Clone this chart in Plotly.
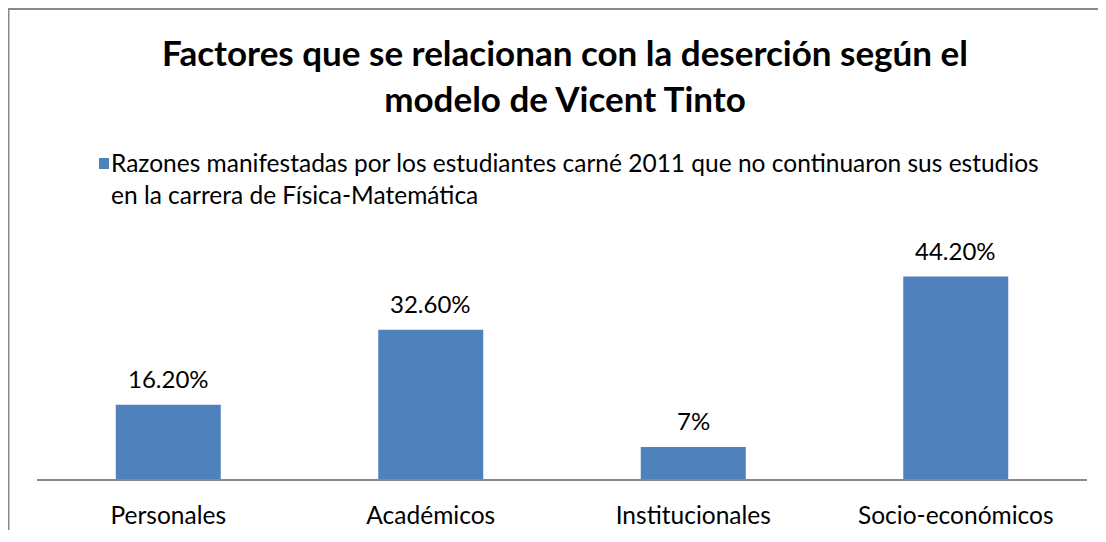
import plotly.graph_objects as go

categorias = ["Personales", "Académicos", "Institucionales", "Socio-económicos"]
porcentajes = [16.2, 32.6, 7.0, 44.2]
etiquetas = ["16.20%", "32.60%", "7%", "44.20%"]
serie = ("Razones manifestadas por los estudiantes carné 2011 que no continuaron sus estudios"
         "<br>en la carrera de Física-Matemática")
titulo = "<b>Factores que se relacionan con la deserción según el<br>modelo de Vicent Tinto</b>"

FONT = "Lato, Carlito, Calibri, sans-serif"
AZUL = "#4f81bd"
GRIS = "#898989"

# la página tiene 8px de margen en el body, la figura ocupa el resto
W, H = 1090, 522
ml, mr, mt, mb = 29, 11, 242, 51
pw, ph = W - ml - mr, H - mt - mb


def px_x(v):
    return (v - ml) / pw


def px_y(v):
    return (H - mb - v) / ph


fig = go.Figure()
fig.add_trace(go.Bar(
    x=categorias, y=porcentajes, name=serie,
    marker=dict(color=AZUL, line=dict(width=0)),
    showlegend=False, hoverinfo="x+y",
))

# etiquetas de datos encima de cada barra
for cat, val, lab in zip(categorias, porcentajes, etiquetas):
    fig.add_annotation(x=cat, y=val, text=lab, showarrow=False,
                       yanchor="bottom", yshift=10,
                       font=dict(size=24, family=FONT, color="#000000"))

# leyenda dibujada a mano (cuadro + texto pegado)
fig.add_shape(type="rect", xref="paper", yref="paper",
              x0=px_x(91), x1=px_x(101), y0=px_y(150), y1=px_y(161),
              fillcolor=AZUL, line=dict(width=0))
fig.add_annotation(xref="paper", yref="paper", x=px_x(101), y=px_y(138),
                   xanchor="left", yanchor="top", align="left",
                   text=serie, showarrow=False,
                   font=dict(size=24.5, family=FONT, color="#000000"))

# marco del gráfico: izquierda y arriba (el derecho queda fuera de la imagen)
fig.add_shape(type="line", xref="paper", yref="paper",
              x0=px_x(0.5), y0=px_y(0), x1=px_x(0.5), y1=px_y(H + 5),
              line=dict(color=GRIS, width=2))
fig.add_shape(type="line", xref="paper", yref="paper",
              x0=px_x(0), y0=px_y(1), x1=px_x(W + 10), y1=px_y(1),
              line=dict(color=GRIS, width=2))

fig.update_layout(
    width=W, height=H,
    margin=dict(l=ml, r=mr, t=mt, b=mb),
    paper_bgcolor="white", plot_bgcolor="white",
    font=dict(family=FONT, color="#000000"),
    title=dict(text=titulo, x=557 / W, xanchor="center", y=1 - 58 / H, yanchor="top",
               font=dict(size=35, family=FONT, color="#000000")),
    bargap=0.6,
    showlegend=False,
)
fig.update_xaxes(showline=True, linecolor=GRIS, linewidth=2, ticks="",
                 tickfont=dict(size=24.5, family=FONT, color="#000000"),
                 showgrid=False, ticklabelstandoff=14, automargin=False)
fig.update_yaxes(range=[0, 50], visible=False, showgrid=False, automargin=False,
                 showline=False, zeroline=False)

fig.write_html("out.html")
